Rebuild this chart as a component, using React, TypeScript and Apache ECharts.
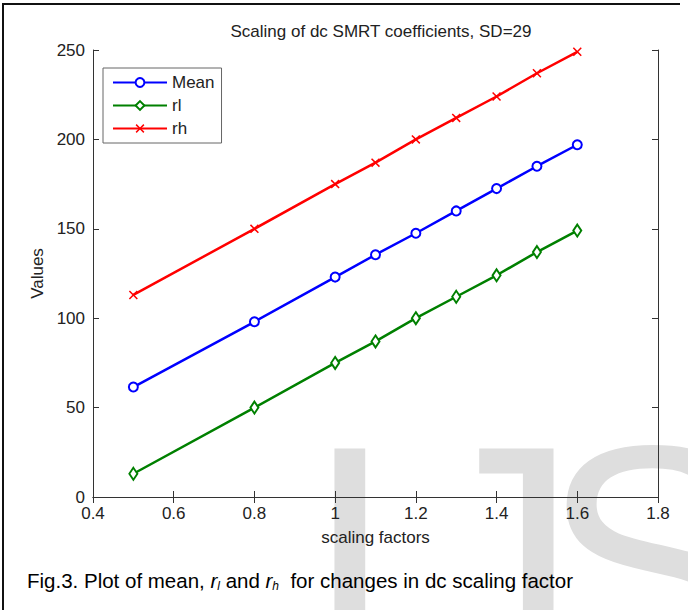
import React, { useEffect, useRef } from "react";
import * as echarts from "echarts";

const scaleFactors = [0.5, 0.8, 1.0, 1.1, 1.2, 1.3, 1.4, 1.5, 1.6];
const meanValues = [61.5, 98, 123, 135.5, 147.5, 160, 172.5, 185, 197];
const rlValues = [13, 50, 75, 87, 100, 112, 124, 137, 149];
const rhValues = [113, 150, 175, 187, 200, 212, 224, 237, 249];

const titleText = "Scaling of dc SMRT coefficients, SD=29";
const xName = "scaling factors";
const yName = "Values";

const FONT = "'Liberation Sans', Arial, Helvetica, sans-serif";
const X_MARK = "path://M0,1.2L1.2,0L5,3.8L8.8,0L10,1.2L6.2,5L10,8.8L8.8,10L5,6.2L1.2,10L0,8.8L3.8,5Z";

export default function App() {
  const ref = useRef<HTMLDivElement>(null);
  useEffect(() => {
    document.body.style.margin = "0";
    const chart = echarts.init(ref.current!, null, { renderer: "svg" });
    const pair = (vals: number[]) => scaleFactors.map((x, i) => [x, vals[i]]);
    const axisCommon = {
      axisLine: { show: true, lineStyle: { color: "#333", width: 1 } },
      axisTick: { show: true, inside: true, length: 6, lineStyle: { color: "#333" } },
      splitLine: { show: false },
    };
    const wm = (ch: string, x: number) => ({
      type: "text",
      z: -10,
      silent: true,
      style: {
        text: ch,
        x,
        y: 561,
        textAlign: "left",
        textVerticalAlign: "middle",
        font: `330px ${FONT}`,
        fill: "#dedede",
      },
    });
    chart.setOption({
      animation: false,
      backgroundColor: "#fff",
      title: {
        text: titleText,
        left: 376,
        textAlign: "center",
        top: 18,
        textStyle: { fontFamily: FONT, fontSize: 17, fontWeight: "normal", color: "#222" },
      },
      grid: { left: 93, right: 30, top: 50, bottom: 113 },
      legend: {
        orient: "vertical",
        left: 103,
        top: 68,
        itemWidth: 54,
        itemHeight: 11,
        itemGap: 6,
        padding: [6, 7, 6, 9],
        borderColor: "#666",
        borderWidth: 1,
        backgroundColor: "#fff",
        textStyle: { fontFamily: FONT, fontSize: 17, color: "#222" },
        data: ["Mean", "rl", "rh"],
      },
      xAxis: [
        {
          type: "value",
          min: 0.4,
          max: 1.8,
          interval: 0.2,
          position: "bottom",
          name: xName,
          nameLocation: "middle",
          nameGap: 32,
          nameTextStyle: { fontFamily: FONT, fontSize: 17, color: "#222" },
          axisLabel: {
            fontFamily: FONT,
            fontSize: 17,
            color: "#222",
            margin: 8,
            formatter: (v: number) => String(+v.toFixed(1)),
          },
          ...axisCommon,
        },
        {
          type: "value",
          min: 0.4,
          max: 1.8,
          interval: 0.2,
          position: "top",
          axisLabel: { show: false },
          ...axisCommon,
        },
      ],
      yAxis: [
        {
          type: "value",
          min: 0,
          max: 250,
          interval: 50,
          position: "left",
          name: yName,
          nameLocation: "middle",
          nameGap: 45,
          nameTextStyle: { fontFamily: FONT, fontSize: 17, color: "#222" },
          axisLabel: { fontFamily: FONT, fontSize: 17, color: "#222", margin: 8 },
          ...axisCommon,
        },
        {
          type: "value",
          min: 0,
          max: 250,
          interval: 50,
          position: "right",
          axisLabel: { show: false },
          ...axisCommon,
        },
      ],
      graphic: [
        wm("I", 304),
        wm("J", 413),
        wm("S", 541),
        {
          type: "line",
          z: 100,
          shape: { x1: 3, y1: 3, x2: 3, y2: 610 },
          style: { stroke: "#111", lineWidth: 2 },
        },
        {
          type: "line",
          z: 100,
          shape: { x1: 3, y1: 4, x2: 680, y2: 4 },
          style: { stroke: "#111", lineWidth: 2 },
        },
        {
          type: "text",
          z: 100,
          style: {
            x: 27,
            y: 580,
            textVerticalAlign: "middle",
            text: "{n|Fig.3. Plot of mean, }{i|r}{s|l}{n| and }{i|r}{s|h}{n|  for changes in dc scaling factor}",
            rich: {
              n: { fontFamily: FONT, fontSize: 20.5, lineHeight: 26, color: "#000" },
              i: { fontFamily: FONT, fontSize: 20.5, fontStyle: "italic", lineHeight: 26, color: "#000" },
              s: { fontFamily: FONT, fontSize: 12, fontStyle: "italic", lineHeight: 13, padding: [13, 0, 0, 0], verticalAlign: "top", color: "#000" },
            },
          },
        },
      ],
      series: [
        {
          name: "Mean",
          type: "line",
          data: pair(meanValues),
          symbol: "emptyCircle",
          symbolSize: 9,
          lineStyle: { width: 2.5, color: "#0000ff" },
          itemStyle: { color: "#0000ff", borderWidth: 2 },
        },
        {
          name: "rl",
          type: "line",
          data: pair(rlValues),
          symbol: "emptyDiamond",
          symbolSize: [8, 12],
          lineStyle: { width: 2.5, color: "#008000" },
          itemStyle: { color: "#008000", borderWidth: 2 },
        },
        {
          name: "rh",
          type: "line",
          data: pair(rhValues),
          symbol: X_MARK,
          symbolSize: 9,
          lineStyle: { width: 2.5, color: "#ff0000" },
          itemStyle: { color: "#ff0000" },
        },
      ],
    });
    return () => chart.dispose();
  }, []);
  return <div ref={ref} style={{ width: 688, height: 610 }} />;
}
